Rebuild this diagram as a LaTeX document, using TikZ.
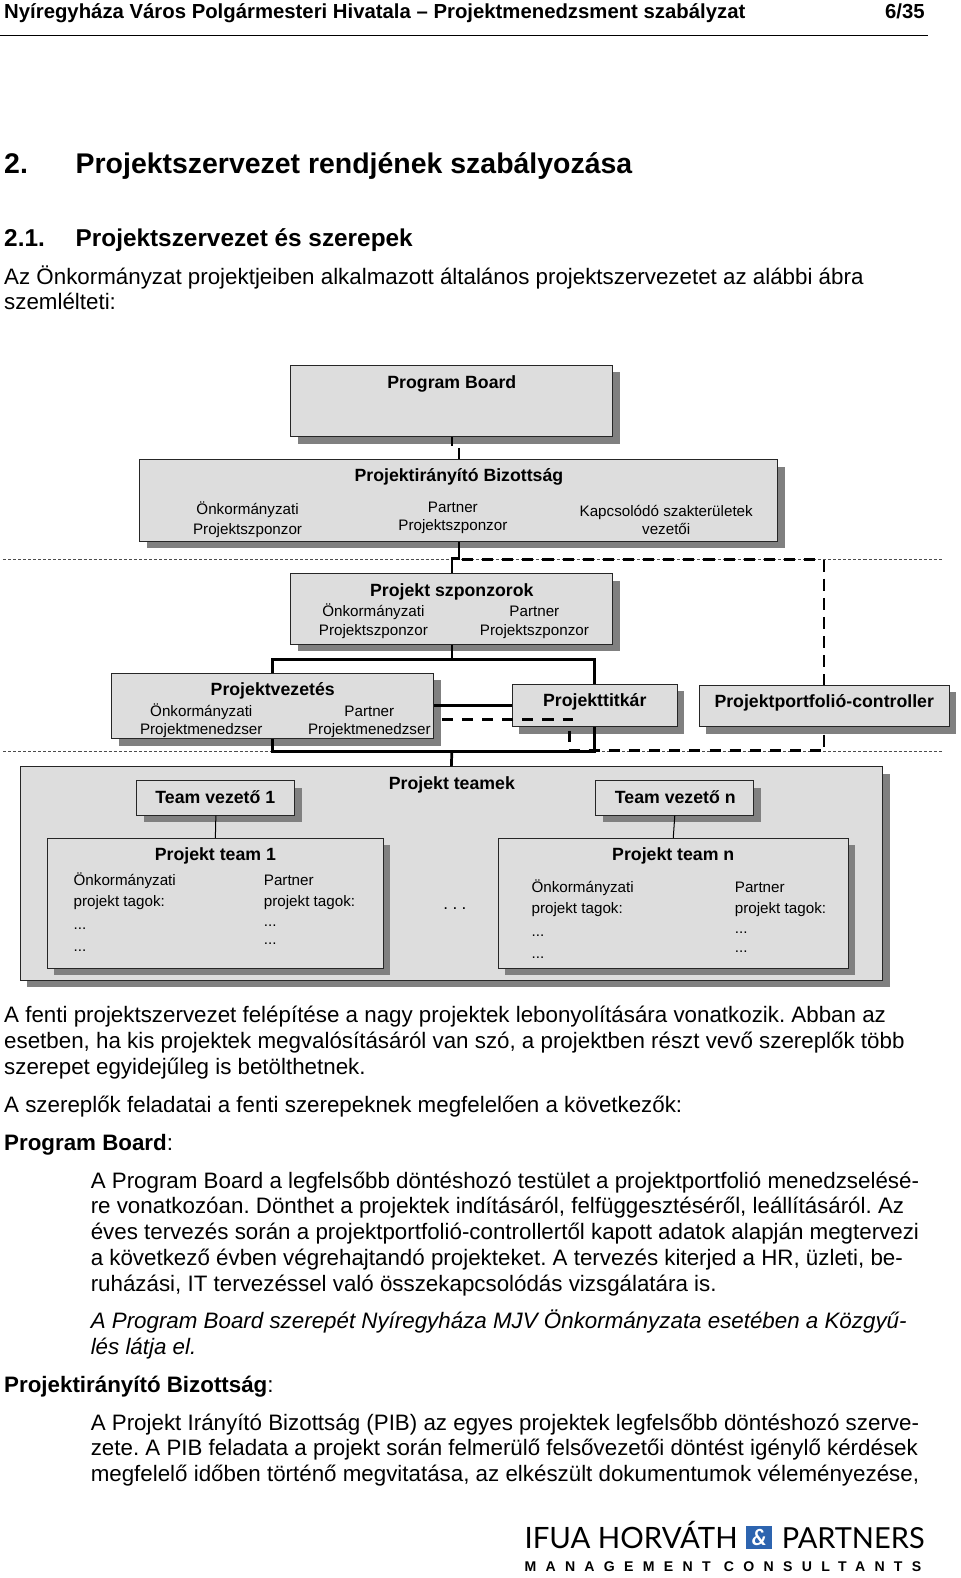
\documentclass[tikz,border=0pt]{standalone}
\usepackage{fontspec}
\setmainfont{Liberation Sans}
\newfontfamily\logofont{Lato}
\usetikzlibrary{shadows}
\definecolor{boxgray}{RGB}{221,221,221}
\definecolor{shadowgray}{RGB}{128,128,128}
\definecolor{logoblue}{RGB}{45,100,175}
\newcommand{\fsz}[1]{\fontsize{#1}{#1}\selectfont}
\frenchspacing
\tikzset{
  box/.style={draw=black!85,line width=1pt,fill=boxgray,inner sep=0pt,
    drop shadow={shadow xshift=7pt,shadow yshift=-7pt,opacity=1,fill=shadowgray}},
  conn/.style={draw=black,line width=2.7pt},
  thinconn/.style={draw=black,line width=1pt},
  dashconn/.style={draw=black,line width=2.7pt,dash pattern=on 11pt off 9pt},
  vdash/.style={draw=black,line width=2pt,dash pattern=on 12pt off 7pt},
  dotline/.style={draw=black!70,line width=1.2pt,dash pattern=on 3pt off 2pt},
  body/.style={anchor=base west,inner sep=0pt,font=\fsz{22.2}},
  bodybf/.style={body,font=\fsz{22.2}\bfseries},
  bodyit/.style={body,font=\fsz{22.2}\itshape},
  small/.style={anchor=base,inner sep=0pt,font=\fsz{15.1},align=center},
  smallw/.style={anchor=base west,inner sep=0pt,font=\fsz{15.1}},
  title/.style={anchor=base,inner sep=0pt,font=\fsz{17.6}\bfseries},
}
\begin{document}
\begin{tikzpicture}[x=1pt,y=-1pt]
\useasboundingbox (0,0) rectangle (954,1568);
\fill[white] (0,0) rectangle (954,1568);
% header
\node[bodybf,font=\fsz{20.2}\bfseries] (hd) at (4,18) {Nyíregyháza Város Polgármesteri Hivatala – Projektmenedzsment szabályzat};
\node[bodybf,font=\fsz{20.2}\bfseries,anchor=base east] (pg) at (919,18) {6/35};
\coordinate (ruleL) at (0,35.5); \coordinate (ruleR) at (922,35.5);
\draw[line width=1.2pt] (ruleL) -- (ruleR);
\node[bodybf,font=\fsz{28.27}\bfseries] (h1n) at (4,172) {2.};
\node[bodybf,font=\fsz{28.27}\bfseries] (h1) at (75,172) {Projektszervezet rendjének szabályozása};
\node[bodybf,font=\fsz{24.2}\bfseries] (h2n) at (4,245) {2.1.};
\node[bodybf,font=\fsz{24.2}\bfseries] (h2) at (75,245) {Projektszervezet és szerepek};
\node[body] (p1) at (4,283) {Az Önkormányzat projektjeiben alkalmazott általános projektszervezetet az alábbi ábra};
\node[body] (p2) at (4,308) {szemlélteti:};
% separators
\coordinate (d1L) at (3,556); \coordinate (d1R) at (937,556);
\coordinate (d2L) at (3,746.5); \coordinate (d2R) at (937,746.5);
\draw[dotline] (d1L) -- (d1R);
\draw[dotline] (d2L) -- (d2R);
% boxes
\node[box,minimum width=320pt,minimum height=71pt] (pb) at (449,398.5) {};
\node[box,minimum width=634pt,minimum height=81pt] (pib) at (456,497.5) {};
\node[box,minimum width=320pt,minimum height=70pt] (sp) at (449,605) {};
\node[box,minimum width=320pt,minimum height=65pt] (pv) at (271,701.5) {};
\node[box,minimum width=164pt,minimum height=42pt] (pt) at (591,701) {};
\node[box,minimum width=248pt,minimum height=41pt] (pc) at (819,701.5) {};
\node[box,minimum width=857pt,minimum height=212pt] (teams) at (448.5,868) {};
\node[box,minimum width=157pt,minimum height=34pt] (tv1) at (214.5,793) {};
\node[box,minimum width=157pt,minimum height=34pt] (tvn) at (670.5,793) {};
\node[box,minimum width=334pt,minimum height=129pt] (t1) at (214,897.5) {};
\node[box,minimum width=348pt,minimum height=129pt] (tn) at (669,897.5) {};
% connector helpers
\coordinate (j1a) at (449,443.5); \coordinate (j1b) at (456,445);
\coordinate (j2a) at (456,555); \coordinate (j2b) at (449,555);
\coordinate (busT) at (449,655); \coordinate (busTL) at (271,655); \coordinate (busTR) at (591,655);
\coordinate (busB) at (449,746.5); \coordinate (busBL) at (271,746.5); \coordinate (busBR) at (591,746.5);
\coordinate (dA) at (459,556); \coordinate (dB) at (819,556);
\coordinate (dS) at (439,715); \coordinate (dC) at (569,715);
\coordinate (dD) at (566,726); \coordinate (dE) at (566,737);
\coordinate (dG) at (565,746); \coordinate (dF) at (816,746);
\coordinate (dH) at (819,730); \coordinate (dI) at (819,742);
% solid connectors
\draw[conn] (pb.south) -- (j1a);
\draw[conn] (j1b) -- (pib.north);
\draw[conn] (pib.south) -- (j2a) -- (j2b) -- (sp.north);
\draw[conn] (sp.south) -- (busT);
\draw[conn,line join=miter] (pv.north) -- (busTL) -- (busTR) -- (pt.north);
\draw[conn] (pv.east |- pt.west) -- (pt.west);
\draw[conn] (pv.south) -- (busBL) -- (busBR) -- (pt.south);
\draw[conn] (busB) -- (teams.north);
\draw[thinconn] (tv1.south) -- (t1.north);
\draw[thinconn] (tvn.south) -- (tn.north);
% dashed connectors
\draw[dashconn] (dA) -- (dB);
\draw[vdash] (dB) -- (pc.north);
\draw[dashconn] (dS) -- (dC);
\draw[line width=2.4pt] (dD) -- (dE);
\draw[dashconn] (dG) -- (dF);
\draw[line width=2.4pt] (dH) -- (dI);
% box texts
\node[title] (pbT) at (449,386) {Program Board};
\node[title] (pibT) at (456,478) {Projektirányító Bizottság};
\node[small] (a1) at (246,511) {Önkormányzati};
\node[small] (a2) at (246,531) {Projektszponzor};
\node[small] (b1) at (450,509) {Partner};
\node[small] (b2) at (450,527) {Projektszponzor};
\node[small] (c1) at (662,513) {Kapcsolódó szakterületek};
\node[small] (c2) at (662,531) {vezetői};
\node[title] (spT) at (449,592.5) {Projekt szponzorok};
\node[small] (s1) at (371,613) {Önkormányzati};
\node[small] (s2) at (371,631) {Projektszponzor};
\node[small] (s3) at (531,613) {Partner};
\node[small] (s4) at (531,631) {Projektszponzor};
\node[title] (pvT) at (271,691.5) {Projektvezetés};
\node[small] (v1) at (200,712) {Önkormányzati};
\node[small] (v2) at (200,730) {Projektmenedzser};
\node[small] (v3) at (367,712) {Partner};
\node[small] (v4) at (367,730) {Projektmenedzser};
\node[title] (ptT) at (591,702) {Projekttitkár};
\node[title] (pcT) at (819,703) {Projektportfolió-controller};
\node[title] (teT) at (449,784) {Projekt teamek};
\node[title] (tv1T) at (214,798) {Team vezető 1};
\node[title] (tvnT) at (671,798) {Team vezető n};
\node[title] (t1T) at (214,855) {Projekt team 1};
\node[title] (tnT) at (669,855) {Projekt team n};
\node[smallw] (x1) at (73,880) {Önkormányzati};
\node[smallw] (x2) at (73,901) {projekt tagok:};
\node[smallw] (x3) at (73,924) {...};
\node[smallw] (x4) at (73,945) {...};
\node[smallw] (y1) at (262,880) {Partner};
\node[smallw] (y2) at (262,901) {projekt tagok:};
\node[smallw] (y3) at (262,921) {...};
\node[smallw] (y4) at (262,939) {...};
\node[smallw] (z1) at (528,887) {Önkormányzati};
\node[smallw] (z2) at (528,908) {projekt tagok:};
\node[smallw] (z3) at (528,931) {...};
\node[smallw] (z4) at (528,952) {...};
\node[smallw] (w1) at (730,887) {Partner};
\node[smallw] (w2) at (730,908) {projekt tagok:};
\node[smallw] (w3) at (730,928) {...};
\node[smallw] (w4) at (730,946) {...};
\node[small,font=\fsz{17}\addfontfeature{LetterSpace=25}] (dots) at (452,904) {...};
% lower body
\node[body] (q1) at (4,1016) {A fenti projektszervezet felépítése a nagy projektek lebonyolítására vonatkozik. Abban az};
\node[body] (q2) at (4,1042) {esetben, ha kis projektek megvalósításáról van szó, a projektben részt vevő szereplők több};
\node[body] (q3) at (4,1067.5) {szerepet egyidejűleg is betölthetnek.};
\node[body] (q4) at (4,1105) {A szereplők feladatai a fenti szerepeknek megfelelően a következők:};
\node[body] (q5) at (4,1143) {\textbf{Program Board}:};
\node[body] (r1) at (90,1180.5) {A Program Board a legfelsőbb döntéshozó testület a projektportfolió menedzselésé-};
\node[body] (r2) at (90,1206) {re vonatkozóan. Dönthet a projektek indításáról, felfüggesztéséről, leállításáról. Az};
\node[body] (r3) at (90,1232) {éves tervezés során a projektportfolió-controllertől kapott adatok alapján megtervezi};
\node[body] (r4) at (90,1257) {a következő évben végrehajtandó projekteket. A tervezés kiterjed a HR, üzleti, be-};
\node[body] (r5) at (90,1283) {ruházási, IT tervezéssel való összekapcsolódás vizsgálatára is.};
\node[bodyit] (i1) at (90,1320.5) {A Program Board szerepét Nyíregyháza MJV Önkormányzata esetében a Közgyű-};
\node[bodyit] (i2) at (90,1346) {lés látja el.};
\node[body] (q6) at (4,1383.5) {\textbf{Projektirányító Bizottság}:};
\node[body] (u1) at (90,1421) {A Projekt Irányító Bizottság (PIB) az egyes projektek legfelsőbb döntéshozó szerve-};
\node[body] (u2) at (90,1446.5) {zete. A PIB feladata a projekt során felmerülő felsővezetői döntést igénylő kérdések};
\node[body] (u3) at (90,1472) {megfelelő időben történő megvitatása, az elkészült dokumentumok véleményezése,};
% logo
\node[anchor=base west,inner sep=0pt,font=\logofont\fsz{29.2}] (lg1) at (521,1539) {IFUA HORVÁTH};
\node[fill=logoblue,text=white,inner sep=0pt,minimum width=26pt,minimum height=23pt,font=\logofont\bfseries\itshape\fsz{22}] (lg2) at (754.5,1527.5) {\&};
\node[anchor=base east,inner sep=0pt,font=\logofont\fsz{28.8}] (lg3) at (919,1539) {PARTNERS};
\node[anchor=base west,inner sep=0pt,font=\fsz{14}\bfseries\addfontfeature{LetterSpace=66}] (lg4) at (521,1562) {MANAGEMENT CONSULTANTS};
\end{tikzpicture}
\end{document}
